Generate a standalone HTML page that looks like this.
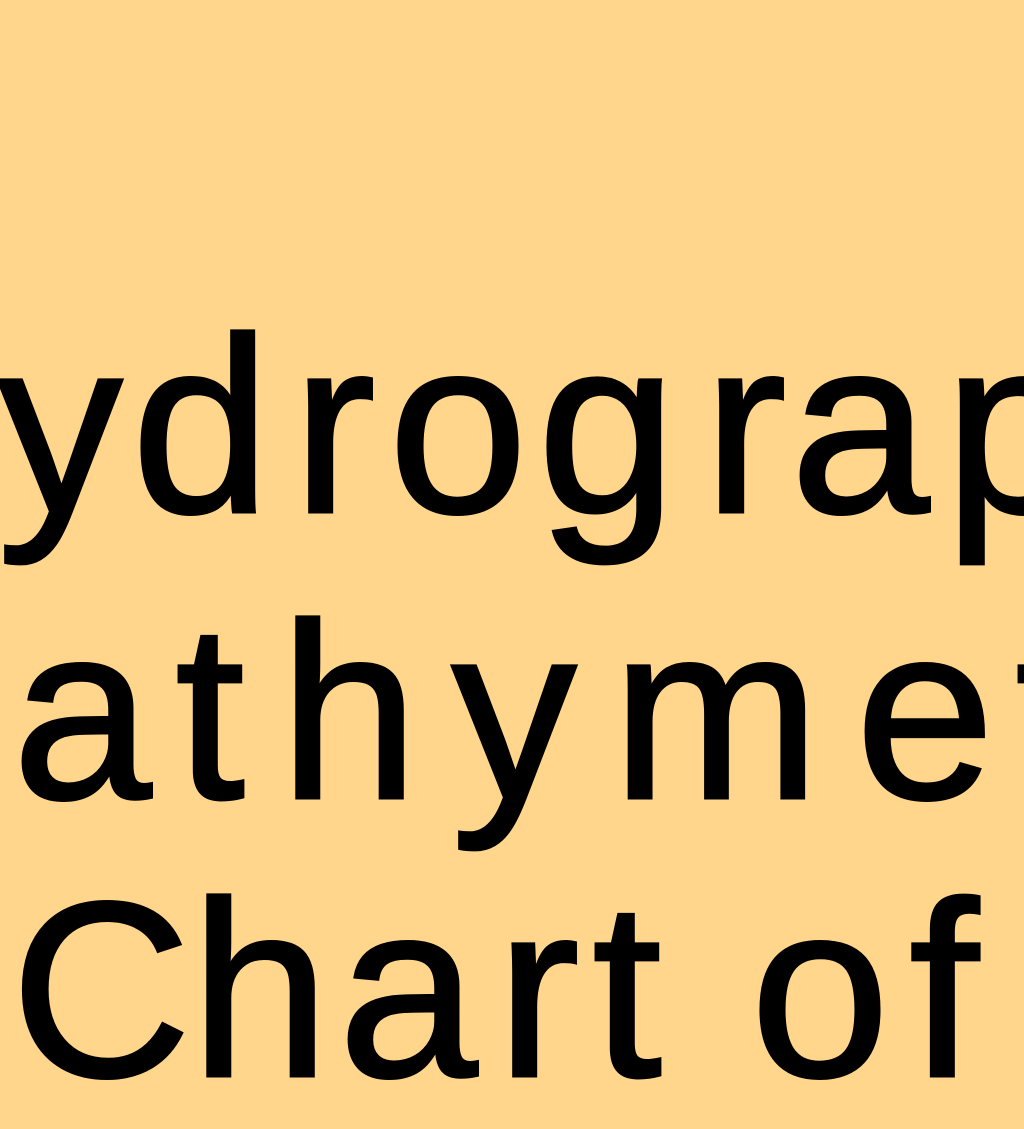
<!DOCTYPE html>
<html>
<head>
<meta charset="utf-8">
<style>
  html, body { margin:0; padding:0; }
  body { width:1024px; height:1024px; overflow:hidden; background:#FFD68B; position:relative; }
  .c { position:absolute; width:300px; margin-left:-150px; text-align:center; font-family:"Liberation Sans", Arial, sans-serif; font-size:250px; line-height:250px; color:#000; -webkit-text-stroke:3px #000; white-space:nowrap; }
  .a { top:301px; }
  .b { top:587px; }
  .d { top:865px; }
</style>
</head>
<body>
  <span class="c a" style="left:-140px">H</span>
  <span class="c a" style="left:60px">y</span>
  <span class="c a" style="left:201px">d</span>
  <span class="c a" style="left:334px">r</span>
  <span class="c a" style="left:458px">o</span>
  <span class="c a" style="left:607px">g</span>
  <span class="c a" style="left:745px">r</span>
  <span class="c a" style="left:860px">a</span>
  <span class="c a" style="left:1014px">p</span>

  <span class="c b" style="left:-100px">B</span>
  <span class="c b" style="left:82px">a</span>
  <span class="c b" style="left:210px">t</span>
  <span class="c b" style="left:349px">h</span>
  <span class="c b" style="left:514px">y</span>
  <span class="c b" style="left:716px">m</span>
  <span class="c b" style="left:925px">e</span>
  <span class="c b" style="left:1050px">t</span>

  <span class="c d" style="left:101px">C</span>
  <span class="c d" style="left:260px">h</span>
  <span class="c d" style="left:408px">a</span>
  <span class="c d" style="left:538px">r</span>
  <span class="c d" style="left:627px">t</span>
  <span class="c d" style="left:820px">o</span>
  <span class="c d" style="left:944px">f</span>
</body>
</html>
